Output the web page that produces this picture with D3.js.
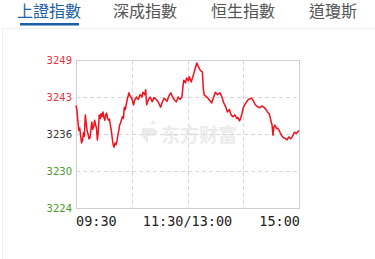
<!DOCTYPE html>
<html>
<head>
<meta charset="utf-8">
<script src="https://cdn.jsdelivr.net/npm/d3@7"></script>
<style>
  body { margin: 0; background: #fff; }
  svg { display: block; }
</style>
</head>
<body>
<div id="chart"></div>
<script>
// tabs across the top
var tabs = ['上證指數', '深成指數', '恒生指數', '道瓊斯'];
var tabX = [17, 113, 211, 309];

// y axis ticks (value, label)
var yTicks = [3224.0, 3230.2, 3236.4, 3242.6, 3248.8];
var yLabels = ['3224', '3230', '3236', '3243', '3249'];
var xLabels = ['09:30', '11:30/13:00', '15:00'];

// intraday series: minutes since open (0..240) and index value
var minutes = [0, 1, 2, 3, 4, 5, 6, 7, 8, 9, 10, 11, 12, 13, 14, 15, 16, 17, 18, 19, 20, 21, 22, 23, 24, 25, 26, 27, 28, 29, 30,
  31, 32, 33, 34, 35, 36, 37, 38, 39, 40, 41, 42, 43, 44, 45, 46, 47, 48, 50, 51, 52, 53, 55, 57, 58, 60, 62, 63, 65, 67, 69, 71,
  72, 74, 75, 76, 78, 80, 82, 84, 87, 89, 91, 93, 95, 98, 100, 102, 104, 106, 108, 110, 112, 114, 115, 116, 118, 119, 121, 122,
  124, 125, 127, 128, 130, 131, 132, 134, 136, 137, 138, 140, 142, 144, 146, 148, 150, 152, 155, 157, 159, 161, 163, 165, 167,
  169, 171, 173, 174, 176, 178, 180, 182, 185, 187, 189, 191, 193, 195, 198, 200, 202, 204, 206, 208, 210, 211, 212, 213, 214,
  216, 217, 219, 221, 223, 225, 227, 229, 231, 233, 235, 237, 240];
var values = [3241.2, 3240.4, 3238.6, 3237.0, 3237.4, 3236.1, 3234.9, 3235.3, 3236.6, 3236.0, 3239.6, 3238.2, 3236.9, 3236.4, 3235.6,
  3235.7, 3237.0, 3238.4, 3237.2, 3237.6, 3238.7, 3238.0, 3237.4, 3235.4, 3236.8, 3239.6, 3239.0, 3239.8, 3239.3, 3240.1, 3239.2,
  3238.7, 3239.6, 3239.9, 3239.0, 3238.7, 3238.9, 3237.9, 3237.0, 3235.7, 3234.6, 3234.2, 3234.9, 3234.6, 3235.1, 3236.2, 3236.9,
  3237.9, 3238.3, 3239.3, 3239.0, 3240.9, 3240.5, 3242.1, 3243.3, 3242.8, 3242.4, 3241.3, 3242.0, 3242.6, 3242.2, 3243.0, 3242.6,
  3243.4, 3243.0, 3243.8, 3241.3, 3242.2, 3242.6, 3241.8, 3242.5, 3242.1, 3241.6, 3240.9, 3241.8, 3242.4, 3241.9, 3242.8, 3243.3,
  3242.6, 3242.1, 3241.8, 3242.6, 3242.2, 3242.6, 3244.2, 3245.4, 3245.0, 3245.8, 3245.3, 3246.0, 3245.1, 3245.6, 3246.6, 3247.2,
  3248.3, 3247.9, 3247.6, 3247.0, 3246.8, 3244.0, 3242.9, 3242.7, 3242.4, 3242.0, 3241.6, 3242.5, 3243.4, 3243.0, 3243.3, 3242.6,
  3241.6, 3241.0, 3240.1, 3240.5, 3239.6, 3239.3, 3239.6, 3239.0, 3239.2, 3238.6, 3239.4, 3240.8, 3241.4, 3242.1, 3242.3, 3242.4,
  3241.9, 3241.3, 3241.0, 3240.8, 3241.1, 3240.9, 3240.6, 3240.1, 3239.8, 3238.5, 3237.9, 3236.2, 3237.6, 3237.9, 3237.3, 3237.4,
  3236.9, 3236.2, 3235.8, 3235.7, 3235.4, 3235.9, 3235.6, 3236.0, 3236.7, 3236.5, 3237.0, 3237.6];

var W = 375, H = 259;
var plot = { left: 76, top: 60, right: 299, bottom: 208 };

var svg = d3.select("#chart").append("svg")
    .attr("width", W)
    .attr("height", H);

// faint outer panel border
svg.append("rect")
    .attr("x", 2.5).attr("y", 28.5)
    .attr("width", W).attr("height", H)
    .style("fill", "none")
    .style("stroke", "#f0f0f0");

// tabs
svg.selectAll(".tab")
    .data(tabs)
    .enter().append("text")
    .attr("class", "tab")
    .attr("x", (d, i) => tabX[i])
    .attr("y", 16.5)
    .style("font-family", "'Noto Sans CJK TC', 'Noto Sans CJK SC', sans-serif")
    .style("font-size", "16px")
    .style("fill", (d, i) => i === 0 ? "#1b5fa8" : "#555")
    .text(d => d);

svg.append("rect")
    .attr("x", 20).attr("y", 23)
    .attr("width", 59).attr("height", 2.5)
    .style("fill", "#1b5fa8");

var x = d3.scaleLinear().domain([0, 240]).range([plot.left, plot.right]);
var y = d3.scaleLinear().domain([yTicks[0], yTicks[yTicks.length - 1]]).range([plot.bottom, plot.top]);

// watermark
var wm = svg.append("g").style("fill", "#ebebeb");
wm.append("path")
    .attr("d", "M142,128 h12 l4,4 l-4,4 h-6 v8 l-6,-8 z M150,124 l6,0 l-3,-4 z");
wm.append("text")
    .attr("x", 161).attr("y", 142)
    .style("font-family", "'Noto Sans CJK SC', sans-serif")
    .style("font-weight", "bold")
    .style("font-size", "19px")
    .text("东方财富");

// grid
var grid = svg.append("g")
    .style("stroke", "#d8d8d8")
    .style("stroke-dasharray", "4,3");
grid.selectAll(".hgrid")
    .data(yTicks.slice(1, -1))
    .enter().append("line")
    .attr("x1", plot.left).attr("x2", plot.right)
    .attr("y1", d => Math.round(y(d)) + 0.5)
    .attr("y2", d => Math.round(y(d)) + 0.5);
grid.selectAll(".vgrid")
    .data([60, 120, 180])
    .enter().append("line")
    .attr("y1", plot.top).attr("y2", plot.bottom)
    .attr("x1", d => Math.round(x(d)) + 0.5)
    .attr("x2", d => Math.round(x(d)) + 0.5);

// frame
svg.append("rect")
    .attr("x", plot.left + 0.5).attr("y", plot.top + 0.5)
    .attr("width", plot.right - plot.left).attr("height", plot.bottom - plot.top)
    .style("fill", "none")
    .style("stroke", "#d0d0d0");

// y labels
var yColors = ["#4d9a2a", "#4d9a2a", "#333", "#f0303a", "#f0303a"];
svg.selectAll(".ylab")
    .data(yTicks)
    .enter().append("text")
    .attr("x", 72)
    .attr("y", d => y(d) + 3.5)
    .attr("text-anchor", "end")
    .style("font-family", "'DejaVu Sans', sans-serif")
    .style("font-size", "10px")
    .style("fill", (d, i) => yColors[i])
    .text((d, i) => yLabels[i]);

// x labels
var xAnchor = ["start", "middle", "end"];
svg.selectAll(".xlab")
    .data(xLabels)
    .enter().append("text")
    .attr("x", (d, i) => x(i * 120) + (i === 2 ? 1 : 0))
    .attr("y", 226)
    .attr("text-anchor", (d, i) => xAnchor[i])
    .style("font-family", "'DejaVu Sans Mono', monospace")
    .style("font-size", "13.5px")
    .style("fill", "#222")
    .text(d => d);

// price line
var line = d3.line()
    .x((d, i) => x(minutes[i]))
    .y(d => y(d));

svg.append("path")
    .datum(values)
    .attr("d", line)
    .style("fill", "none")
    .style("stroke", "#f2101c")
    .style("stroke-width", 1.5)
    .style("stroke-linejoin", "round");
</script>
</body>
</html>
